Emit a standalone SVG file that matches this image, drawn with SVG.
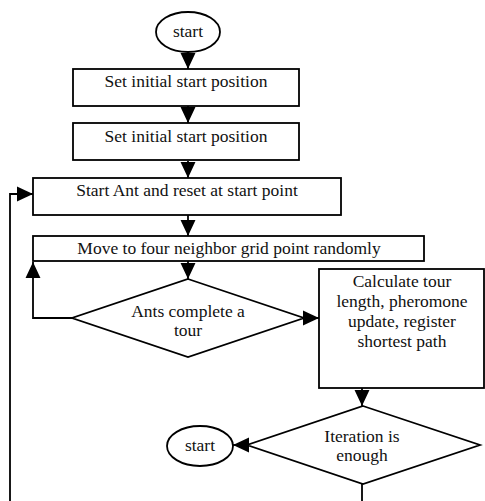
<svg xmlns="http://www.w3.org/2000/svg" width="485" height="501" viewBox="0 0 485 501">
<style>
.shape{fill:#fff;stroke:#000;stroke-width:1.8}
.lbl{font-family:"Liberation Serif","Times New Roman",serif;font-size:17.5px;fill:#111;text-anchor:middle}
.conn{fill:none;stroke:#000;stroke-width:1.8}
</style>
<defs>
<marker id="ah" markerUnits="userSpaceOnUse" markerWidth="16" markerHeight="16" viewBox="0 0 15 14" refX="15" refY="7" orient="auto">
<path d="M0,0 L15,7 L0,14 Z" fill="#000"/>
</marker>
</defs>
<rect width="485" height="501" fill="#fff"/>
<g id="connectors">
<line class="conn" x1="188" y1="52" x2="188" y2="69" marker-end="url(#ah)"/>
<line class="conn" x1="188" y1="106" x2="188" y2="123" marker-end="url(#ah)"/>
<line class="conn" x1="188" y1="161" x2="188" y2="178" marker-end="url(#ah)"/>
<line class="conn" x1="188" y1="215" x2="188" y2="236" marker-end="url(#ah)"/>
<line class="conn" x1="188" y1="261" x2="188" y2="279" marker-end="url(#ah)"/>
<path class="conn" d="M72,318 H33 V262" marker-end="url(#ah)"/>
<line class="conn" x1="304" y1="318" x2="319" y2="318" marker-end="url(#ah)"/>
<line class="conn" x1="362" y1="388" x2="362" y2="406" marker-end="url(#ah)"/>
<line class="conn" x1="247" y1="445" x2="233" y2="445" marker-end="url(#ah)"/>
<path class="conn" d="M362,484 V515 H10 V194 H33" marker-end="url(#ah)"/>
</g>
<g id="start1">
<ellipse class="shape" cx="188" cy="32" rx="32" ry="20"/>
<text class="lbl" x="188" y="37">start</text>
</g>
<g id="box1">
<rect class="shape" x="73" y="69" width="226" height="37"/>
<text class="lbl" x="186" y="87">Set initial start position</text>
</g>
<g id="box2">
<rect class="shape" x="73" y="123" width="226" height="37"/>
<text class="lbl" x="186" y="142">Set initial start position</text>
</g>
<g id="box3">
<rect class="shape" x="33" y="178" width="308" height="37"/>
<text class="lbl" x="187" y="196">Start Ant and reset at start point</text>
</g>
<g id="box4">
<rect class="shape" x="33" y="236" width="391" height="25"/>
<text class="lbl" x="229" y="254">Move to four neighbor grid point randomly</text>
</g>
<g id="decision1">
<polygon class="shape" points="188,279 304,318 188,357 72,318"/>
<text class="lbl" x="188" y="317">Ants complete a</text>
<text class="lbl" x="188" y="336">tour</text>
</g>
<g id="calc">
<rect class="shape" x="319" y="269" width="165" height="119"/>
<text class="lbl" x="402" y="287">Calculate tour</text>
<text class="lbl" x="402" y="307">length, pheromone</text>
<text class="lbl" x="402" y="327">update, register</text>
<text class="lbl" x="402" y="347">shortest path</text>
</g>
<g id="decision2">
<polygon class="shape" points="363,406 480,445 363,484 247,445"/>
<text class="lbl" x="362" y="442">Iteration is</text>
<text class="lbl" x="362" y="461">enough</text>
</g>
<g id="start2">
<ellipse class="shape" cx="200" cy="446" rx="33" ry="20"/>
<text class="lbl" x="200" y="451">start</text>
</g>
</svg>
